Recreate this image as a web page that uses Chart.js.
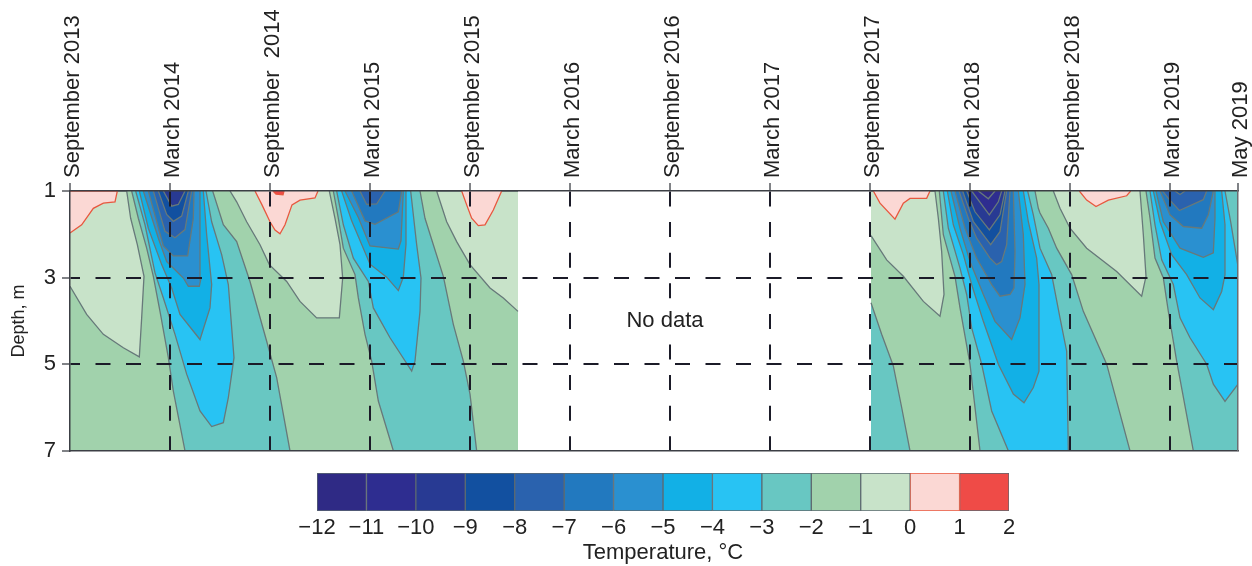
<!DOCTYPE html>
<html>
<head>
<meta charset="utf-8">
<title>Ground temperature</title>
<script src="https://cdn.jsdelivr.net/npm/chart.js@4"></script>
<style>
  body { margin: 0; background: #fff; }
  canvas { position: absolute; left: 0; }
  #contourChart { top: 0; }
  #scaleChart { top: 460px; }
</style>
</head>
<body>
<canvas id="contourChart" width="1252" height="470"></canvas>
<canvas id="scaleChart" width="1252" height="106"></canvas>
<script>
// Time axis: months after September 2013 (the last interval is stretched in the original)
const tickMonths = [0, 6, 12, 18, 24, 30, 36, 42, 48, 54, 60, 66, 70.08];
const tickLabels = ['September 2013', 'March 2014', 'September  2014', 'March 2015', 'September 2015',
  'March 2016', 'September 2016', 'March 2017', 'September 2017', 'March 2018', 'September 2018',
  'March 2019', 'May 2019'];
const depthTicks = [1, 3, 5, 7];

// Colour bar
const bandLows = [-12, -11, -10, -9, -8, -7, -6, -5, -4, -3, -2, -1, 0, 1];
const bandColors = ['#2f2a85', '#2e2d90', '#283a93', '#1250a0', '#2a62ae', '#2279bf', '#2a90d0',
  '#12b0e6', '#28c3f3', '#68c7c2', '#a1d2ac', '#c8e3c9', '#fbd8d4', '#ef4b47'];

// Contour regions as [month, depth]
const record2013 = [[0, 1], [26.88, 1], [26.88, 7], [0, 7]];
const record2017 = [[48.06, 1], [70.08, 1], [70.08, 7], [48.06, 7]];

// Winter 2013/14
const w1Below2 = [[3.7, 1], [4.1, 1.63], [4.6, 2.32], [5, 2.97], [5.4, 3.78], [5.9, 4.85], [6.2, 5.62], [6.9, 7], [13.2, 7], [12.4, 5.31], [11.8, 4.47], [10.8, 3.09], [10, 2.17], [9.2, 1.78], [8.56, 1]];
const w1Below3 = [[3.94, 1], [4.5, 1.78], [5.1, 2.89], [5.6, 3.47], [6.3, 4.31], [7, 5.23], [7.8, 6.08], [8.5, 6.44], [9.2, 6.35], [9.5, 5.77], [9.84, 4.85], [9.5, 3.16], [9.1, 2.47], [8.5, 1.71], [8.16, 1]];
const w1Below4 = [[4.16, 1], [4.7, 1.86], [5.5, 2.7], [6.1, 3.24], [6.6, 3.85], [7.8, 4.43], [8.4, 3.7], [8.5, 3.16], [8.2, 2.01], [8, 1]];
const w1Below5 = [[4.4, 1], [5.3, 2.09], [5.8, 2.63], [6.8, 3.01], [7.1, 3.2], [7.76, 3.2], [7.84, 3.05], [7.8, 1]];
const w1Below6 = [[4.7, 1], [5.6, 2.27], [6.2, 2.5], [7.06, 2.5], [7.4, 1.63], [7.44, 1]];
const w1Below7 = [[5, 1], [5.7, 1.93], [6.3, 2.08], [6.9, 1.89], [7.3, 1]];
const w1Below8 = [[5.3, 1], [5.8, 1.54], [6.2, 1.7], [6.7, 1.58], [7.1, 1]];
const w1Below9 = [[5.6, 1], [6.1, 1.35], [6.5, 1.31], [6.9, 1]];

// Winter 2014/15
const w2Below2 = [[15.8, 1], [16.1, 1.63], [16.4, 2.32], [17.1, 2.93], [17.3, 3.47], [17.7, 4.31], [18.1, 4.93], [18.5, 5.85], [19.4, 7], [24.4, 7], [24, 5.69], [23.6, 4.93], [23, 4.08], [22.4, 2.97], [21.8, 2.24], [21.3, 1.63], [21, 1]];
const w2Below3 = [[16, 1], [16.4, 1.78], [17, 2.55], [17.9, 3.09], [18.2, 3.7], [19.2, 4.39], [20.5, 5.16], [20.7, 4.93], [21, 3.78], [21.06, 3.01], [20.8, 2.24], [20.44, 1]];
const w2Below4 = [[16.3, 1], [16.9, 1.69], [18, 2.69], [19, 2.99], [19.7, 3.3], [20, 2.99], [20.16, 2.23], [20.16, 1]];
const w2Below5 = [[16.5, 1], [17.3, 1.61], [18, 2.27], [19.7, 2.34], [19.86, 2.15], [20, 1]];
const w2Below6 = [[16.9, 1], [17.7, 1.69], [18.3, 1.77], [19.7, 1.48], [19.9, 1]];
const w2Below7 = [[17.4, 1], [17.8, 1.31], [18.4, 1.3], [18.9, 1]];

// Winter 2017/18 (with the tail of the previous winter on the left)
const w3Tail = [[48.06, 7], [50.4, 7], [49.9, 6], [49.4, 5.04], [48.7, 4.31], [48.06, 3.58]];
const w3Below2 = [[52.16, 1], [52.4, 2.01], [53.1, 2.97], [53.4, 3.7], [54, 5], [54.6, 7], [63.6, 7], [62.2, 5], [60.8, 3.78], [60.1, 2.93], [59.2, 2.32], [58.7, 1.86], [58.2, 1.51], [58.1, 1.4], [57.9, 1]];
const w3Below3 = [[52.4, 1], [52.7, 1.86], [53.4, 2.78], [53.8, 3.39], [54.1, 4.16], [54.7, 5], [55.3, 6.08], [56.3, 7], [59.9, 7], [59.8, 4.7], [59.4, 3.93], [58.9, 2.93], [58.2, 2.32], [57.8, 1.55], [57.46, 1]];
const w3Below4 = [[52.64, 1], [53, 1.78], [53.6, 2.47], [54.1, 3.16], [54.8, 4.01], [55.7, 5], [56.6, 5.69], [57.24, 5.89], [57.8, 5.54], [58.14, 5.16], [58.14, 3.16], [58, 2.55], [57.5, 1.71], [57.2, 1]];
const w3Below5 = [[52.86, 1], [53.4, 1.86], [54, 2.63], [54.8, 3.39], [55.5, 4.01], [56.5, 4.43], [57, 3.93], [57.3, 3.16], [57.2, 2.01], [56.9, 1]];
const w3Below6 = [[53.1, 1], [53.7, 1.86], [54.4, 2.55], [55.3, 3.16], [55.8, 3.43], [56.4, 3.39], [56.64, 3.24], [56.7, 2.4], [56.6, 1]];
const w3Below7 = [[53.34, 1], [53.9, 1.63], [54.4, 2.09], [55.2, 2.55], [55.6, 2.7], [55.9, 2.63], [56.2, 2.24], [56.4, 1]];
const w3Below8 = [[53.56, 1], [54.2, 1.71], [55.24, 2.24], [55.8, 1.94], [56.2, 1]];
const w3Below9 = [[53.8, 1], [54.3, 1.48], [55.16, 1.9], [55.8, 1.55], [56.1, 1]];
const w3Below10 = [[54.1, 1], [55.16, 1.55], [55.7, 1.25], [55.9, 1]];
const w3Below11 = [[54.5, 1], [55.1, 1.18], [55.5, 1]];

// Winter 2018/19
const w4Below2 = [[64.56, 1], [64.8, 1.63], [65.1, 2.55], [65.6, 3.01], [65.9, 3.78], [66.4, 4.93], [67.4, 7], [70.08, 7], [70.08, 1]];
const w4Below3 = [[64.8, 1], [65.1, 1.78], [65.5, 2.59], [66.2, 3.16], [66.6, 3.93], [67.2, 4.39], [68.2, 5], [68.6, 5.46], [69.3, 5.86], [70.08, 5.46], [70.08, 2.74], [69.64, 1.71], [69.3, 1]];
const w4Below4 = [[65, 1], [65.4, 1.71], [66.1, 2.47], [67, 2.93], [67.8, 3.47], [68.6, 3.74], [69.1, 3.32], [69.3, 2.93], [69.3, 1.78], [69.1, 1]];
const w4Below5 = [[65.16, 1], [65.6, 1.71], [66.6, 2.32], [68, 2.53], [68.6, 2.43], [68.7, 1.63], [68.7, 1]];
const w4Below6 = [[65.4, 1], [66, 1.55], [66.8, 1.82], [67.9, 1.86], [68.3, 1.55], [68.6, 1]];
const w4Below7 = [[65.56, 1], [65.9, 1.17], [66.56, 1.45], [68, 1.2], [68.2, 1]];
const w4Below8 = [[66.3, 1], [66.6, 1.08], [66.9, 1]];

// Near-zero summer regions (-1 to 0)
const coolA = [[0, 1], [3.4, 1], [3.64, 1.63], [4.04, 2.24], [4.44, 2.97], [4.3, 3.93], [4.16, 4.83], [3.2, 4.62], [2, 4.31], [1, 3.85], [0, 3.2]];
const coolB = [[9.6, 1], [10, 1.25], [10.6, 1.71], [11.4, 2.24], [11.96, 2.7], [13, 3.09], [13.8, 3.55], [14.8, 3.93], [16.16, 3.93], [16.36, 3.01], [16.2, 2.24], [15.9, 1.63], [15.56, 1]];
const coolC = [[26.88, 1], [22, 1], [22.6, 1.71], [23.2, 2.17], [24, 2.7], [25.2, 3.24], [26, 3.47], [26.88, 3.78]];
const coolD = [[48.06, 1], [51.9, 1], [52.1, 1.63], [52.3, 2.4], [52.44, 3.39], [52.2, 3.89], [51.2, 3.55], [50, 2.97], [49, 2.59], [48.06, 2.03]];
const coolE = [[59, 1], [59.4, 1.4], [60, 1.86], [61, 2.32], [62.8, 2.86], [64.3, 3.43], [64.56, 2.97], [64.4, 2.01], [64.2, 1]];

// Above-zero regions
const warmA = [[0, 1], [2.84, 1], [2.7, 1.25], [2, 1.28], [1.4, 1.4], [0.7, 1.78], [0, 1.97]];
const warmB = [[11.1, 1], [11.52, 1.32], [12, 1.71], [12.3, 1.9], [12.6, 1.99], [12.9, 1.78], [13.32, 1.32], [13.8, 1.21], [14.7, 1.16], [14.88, 1]];
const warmC = [[23.5, 1], [23.8, 1.32], [24.1, 1.63], [24.5, 1.8], [24.9, 1.78], [25.4, 1.44], [25.9, 1]];
const warmD = [[48.2, 1], [48.6, 1.28], [49.5, 1.65], [50, 1.28], [50.4, 1.17], [51.4, 1.17], [51.6, 1]];
const warmE = [[60.56, 1], [61, 1.21], [61.56, 1.36], [62.3, 1.21], [63.4, 1.11], [63.64, 1]];
const hotB = [[12.18, 1], [12.36, 1.07], [12.78, 1.09], [12.84, 1]];

const noData = { month: 35.7, depth: 3.99, text: 'No data' };

// Paint order, each with the lower limit of its colour band
const layers = [
  [-2, record2013], [-2, record2017],
  [-3, w1Below2], [-4, w1Below3], [-5, w1Below4], [-6, w1Below5], [-7, w1Below6], [-8, w1Below7], [-9, w1Below8], [-10, w1Below9],
  [-3, w2Below2], [-4, w2Below3], [-5, w2Below4], [-6, w2Below5], [-7, w2Below6], [-8, w2Below7],
  [-3, w3Tail],
  [-3, w3Below2], [-4, w3Below3], [-5, w3Below4], [-6, w3Below5], [-7, w3Below6], [-8, w3Below7], [-9, w3Below8], [-10, w3Below9], [-11, w3Below10], [-12, w3Below11],
  [-3, w4Below2], [-4, w4Below3], [-5, w4Below4], [-6, w4Below5], [-7, w4Below6], [-8, w4Below7], [-9, w4Below8],
  [-1, coolA], [-1, coolB], [-1, coolC], [-1, coolD], [-1, coolE],
  [0, warmA], [0, warmB], [0, warmC], [0, warmD], [0, warmE], [1, hotB]
];

const FONT = { family: "'Liberation Sans', Arial, sans-serif", size: 22 };
const INK = '#1b1b28';
const FRAME = '#3c3f45';
const LINE_GREY = '#67797a';
const LINE_RED = '#e8583f';

function bandColor(low) {
  return bandColors[bandLows.indexOf(low)];
}

function edgeColor(low) {
  return low >= 0 ? LINE_RED : LINE_GREY;
}

const noDataLabel = {
  id: 'noDataLabel',
  afterDraw(chart) {
    const { ctx, scales } = chart;
    const x = scales.x.getPixelForValue(noData.month);
    const y = scales.y.getPixelForValue(noData.depth);
    ctx.save();
    ctx.font = FONT.size + 'px ' + FONT.family;
    const w = ctx.measureText(noData.text).width;
    ctx.fillStyle = '#fff';
    ctx.fillRect(x - w / 2 - 2, y - 14, w + 4, 28);
    ctx.fillStyle = '#222';
    ctx.textAlign = 'center';
    ctx.textBaseline = 'middle';
    ctx.fillText(noData.text, x, y);
    ctx.restore();
  }
};

new Chart(document.getElementById('contourChart'), {
  type: 'scatter',
  data: {
    // Chart.js paints the highest order first, so the list order is kept with a falling order
    datasets: layers.map(([low, points], i) => ({
      data: points,
      order: layers.length - i,
      showLine: true,
      fill: 'shape',
      tension: 0,
      pointRadius: 0,
      backgroundColor: bandColor(low),
      borderColor: edgeColor(low),
      borderWidth: i < 2 ? 0 : 1.3
    }))
  },
  options: {
    responsive: false,
    animation: false,
    events: [],
    layout: { padding: 0 },
    plugins: { legend: { display: false }, tooltip: { enabled: false } },
    scales: {
      x: {
        type: 'linear',
        position: 'top',
        min: 0,
        max: 70.08,
        afterBuildTicks: axis => { axis.ticks = tickMonths.map(value => ({ value })); },
        afterFit: axis => { axis.height = 191; },
        ticks: {
          autoSkip: false,
          minRotation: 90,
          maxRotation: 90,
          padding: 5,
          labelOffset: 29,
          color: '#222',
          font: FONT,
          callback: value => tickLabels[tickMonths.indexOf(value)]
        },
        grid: {
          z: 1,
          lineWidth: 2,
          color: ctx => (ctx.tick && (ctx.tick.value === 0 || ctx.tick.value === 70.08) ? 'transparent' : INK),
          tickLength: 8,
          tickColor: FRAME,
          tickWidth: 1.3,
          tickBorderDash: []
        },
        border: { z: 2, color: FRAME, width: 1.5, dash: [15, 15.6] }
      },
      x2: {
        type: 'linear',
        axis: 'x',
        position: 'bottom',
        min: 0,
        max: 70.08,
        afterFit: axis => { axis.height = 18; },
        ticks: { display: false },
        grid: { display: false },
        border: { z: 2, color: FRAME, width: 1.5 }
      },
      y: {
        type: 'linear',
        position: 'left',
        reverse: true,
        min: 1,
        max: 7,
        afterBuildTicks: axis => { axis.ticks = depthTicks.map(value => ({ value })); },
        afterFit: axis => { axis.width = 70; },
        title: {
          display: true,
          text: 'Depth, m',
          color: '#222',
          font: { family: FONT.family, size: 18 },
          padding: { top: 8, bottom: 0 }
        },
        ticks: { padding: 6, color: '#222', font: FONT },
        grid: {
          z: 1,
          lineWidth: 2,
          color: ctx => (ctx.tick && (ctx.tick.value === 1 || ctx.tick.value === 7) ? 'transparent' : INK),
          tickLength: 8,
          tickColor: FRAME,
          tickWidth: 1.3,
          tickBorderDash: []
        },
        border: { z: 2, color: FRAME, width: 1.5, dash: [15, 15.5], dashOffset: 5.5 }
      },
      y2: {
        type: 'linear',
        axis: 'y',
        position: 'right',
        reverse: true,
        min: 1,
        max: 7,
        afterFit: axis => { axis.width = 14; },
        ticks: { display: false },
        grid: { display: false },
        border: { z: 2, color: '#6b6e72', width: 1.5 }
      }
    }
  },
  plugins: [noDataLabel]
});

new Chart(document.getElementById('scaleChart'), {
  type: 'bar',
  data: {
    labels: ['Temperature'],
    datasets: bandLows.map((low, i) => ({
      data: [[low, low + 1]],
      backgroundColor: bandColors[i],
      borderColor: low === 0 ? LINE_RED : '#5d6a70',
      borderWidth: 1,
      borderSkipped: false,
      grouped: false,
      barPercentage: 1,
      categoryPercentage: 1
    }))
  },
  options: {
    indexAxis: 'y',
    responsive: false,
    animation: false,
    events: [],
    layout: { padding: { left: 317, right: 243, top: 13, bottom: 0 } },
    plugins: { legend: { display: false }, tooltip: { enabled: false } },
    scales: {
      y: { display: false },
      x: {
        type: 'linear',
        min: -12,
        max: 2,
        afterFit: axis => { axis.height = 55; },
        title: {
          display: true,
          text: 'Temperature, °C',
          color: '#222',
          font: FONT,
          padding: 0
        },
        ticks: {
          stepSize: 1,
          padding: 4,
          maxRotation: 0,
          autoSkip: false,
          color: '#222',
          font: FONT,
          callback: value => String(value).replace('-', '\u2212')
        },
        grid: { display: false, drawTicks: false },
        border: { display: false }
      }
    }
  }
});
</script>
</body>
</html>
